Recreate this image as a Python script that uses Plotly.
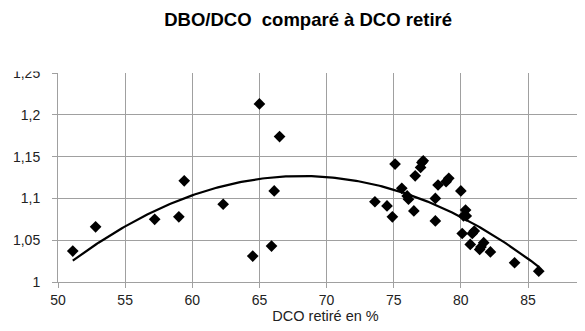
import numpy as np
import plotly.graph_objects as go

title_text = "DBO/DCO  comparé à DCO retiré"
x_title = "DCO retiré en %"

# DCO retiré (%) and DBO/DCO ratio
dco_retire = [51.1, 52.8, 57.2, 59.0, 59.4, 62.3, 64.5, 65.0, 65.9, 66.1, 66.5,
              73.6, 74.5, 74.9, 75.1, 75.6, 76.0, 76.1, 76.5, 76.6, 77.0, 77.1, 77.2,
              78.1, 78.1, 78.3, 78.9, 79.1, 80.0, 80.1, 80.2, 80.35, 80.4, 80.7,
              80.85, 81.0, 81.4, 81.5, 81.7, 82.2, 84.0, 85.8]
dbo_dco = [1.037, 1.066, 1.075, 1.078, 1.121, 1.093, 1.031, 1.213, 1.043, 1.109, 1.174,
           1.096, 1.091, 1.078, 1.141, 1.112, 1.103, 1.099, 1.085, 1.127, 1.137, 1.143, 1.145,
           1.100, 1.073, 1.116, 1.120, 1.124, 1.109, 1.058, 1.079, 1.086, 1.079, 1.045,
           1.058, 1.061, 1.039, 1.042, 1.047, 1.036, 1.023, 1.013]

x_ticks = [50, 55, 60, 65, 70, 75, 80, 85, 90]
y_ticks = [1.0, 1.05, 1.1, 1.15, 1.2, 1.25]
y_ticktext = ["1", "1,05", "1,1", "1,15", "1,2", "1,25"]

# 2nd-order polynomial trendline fitted to the data (as in the original spreadsheet)
coef = np.polyfit(dco_retire, dbo_dco, 2)
xt = np.linspace(min(dco_retire), max(dco_retire), 200)
yt = np.polyval(coef, xt)

fig = go.Figure()
fig.add_trace(go.Scatter(x=xt, y=yt, mode="lines",
                         line=dict(color="black", width=2.2), hoverinfo="skip"))
fig.add_trace(go.Scatter(x=dco_retire, y=dbo_dco, mode="markers",
                         marker=dict(symbol="diamond", size=9, color="black")))

font = "Liberation Sans, Arial, sans-serif"
fig.update_layout(
    width=585, height=331,
    margin=dict(l=50, r=0, t=65, b=57),
    plot_bgcolor="white", paper_bgcolor="white",
    showlegend=False,
    font=dict(family=font, size=14, color="#222"),
    title=dict(text="<b>" + title_text + "</b>", x=0.513, xanchor="center",
               y=0.965, yanchor="middle",
               font=dict(family=font, size=18.5, color="black")),
    xaxis=dict(range=[50, 89.84], tickvals=x_ticks, showgrid=True,
               gridcolor="#a0a0a0", gridwidth=1, zeroline=False,
               showline=True, linecolor="#a0a0a0", linewidth=1,
               ticks="outside", ticklen=5, tickcolor="#a0a0a0",
               ticklabelstandoff=0,
               tickfont=dict(family=font, size=14, color="#222"),
               title=dict(text=x_title, standoff=4,
                          font=dict(family=font, size=14.5, color="#222"))),
    yaxis=dict(range=[1.0, 1.25], tickvals=y_ticks, ticktext=y_ticktext,
               showgrid=True, gridcolor="#a0a0a0", gridwidth=1, zeroline=False,
               showline=True, linecolor="#a0a0a0", linewidth=1,
               ticks="outside", ticklen=5, tickcolor="#a0a0a0",
               ticklabelstandoff=9,
               tickfont=dict(family=font, size=14, color="#222")),
    annotations=[
        dict(text="9", xref="paper", yref="paper", x=1.0, y=0,
             xanchor="right", yanchor="top", yshift=-11, showarrow=False,
             font=dict(family=font, size=14, color="#222")),
        dict(text=" ", xref="paper", yref="paper", x=-0.004, y=1.0,
             xanchor="right", yanchor="bottom", yshift=1, showarrow=False,
             width=48, height=14, bgcolor="white", borderpad=0,
             font=dict(size=10)),
    ],
)

fig.write_html("out.html")
